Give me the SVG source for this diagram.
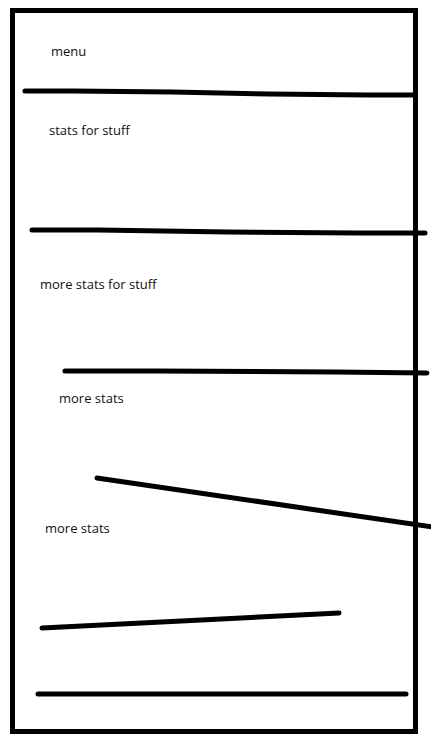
<svg xmlns="http://www.w3.org/2000/svg" width="431" height="756" viewBox="0 0 431 756">
<style>
.t{font-family:"Open Sans","Noto Sans","DejaVu Sans",sans-serif;font-size:13px;fill:#111}
.ln{stroke:#000;stroke-width:5;stroke-linecap:round;fill:none}
</style>
<rect width="431" height="756" fill="#fff"/>
<g id="frame"><rect x="12.5" y="10.5" width="403" height="721" fill="none" stroke="#000" stroke-width="5"/></g>
<g id="lines">
<path class="ln" d="M25,91 L73,91 L172,92 L270,94 L368,95 L413,95"/>
<path class="ln" d="M32,230 L98,230 L228,232 L358,233 L425,233"/>
<path class="ln" d="M65,371 L155,371 L335,372 L427,373"/>
<path class="ln" d="M97,478 L433,527"/>
<path class="ln" d="M42,628 L339,613"/>
<path class="ln" d="M38,694 L406,694"/>
</g>
<g id="menu"><text class="t" x="51" y="56">menu</text></g>
<g id="stats1"><text class="t" x="49" y="135">stats for stuff</text></g>
<g id="stats2"><text class="t" x="40" y="289">more stats for stuff</text></g>
<g id="stats3"><text class="t" x="59" y="403">more stats</text></g>
<g id="stats4"><text class="t" x="45" y="533">more stats</text></g>
</svg>
